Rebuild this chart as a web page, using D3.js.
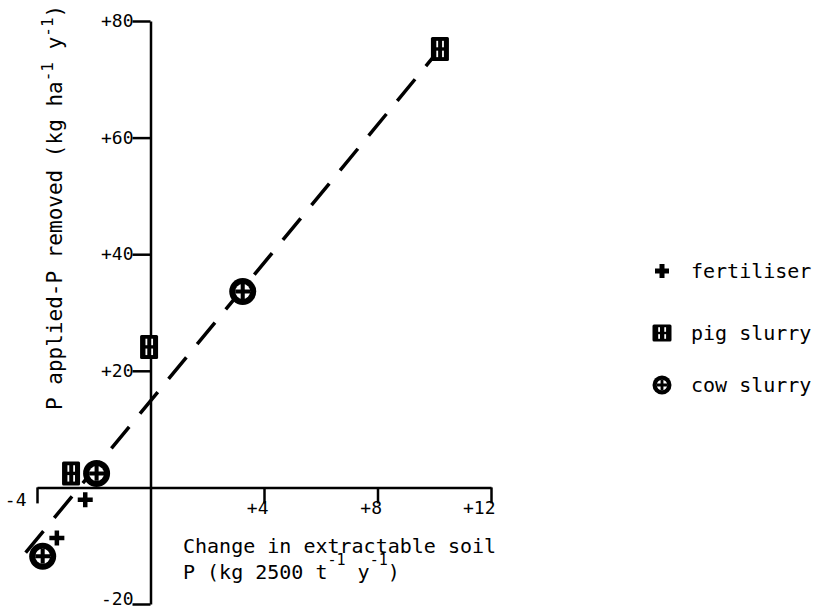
<!DOCTYPE html>
<html>
<head>
<meta charset="utf-8">
<script src="https://cdn.jsdelivr.net/npm/d3@7"></script>
<style>
  body { margin: 0; background: #fff; }
  text { font-family: "DejaVu Sans Mono", monospace; fill: #000; }
</style>
</head>
<body>
<svg width="816" height="610"></svg>
<script>
// values
var fertX = [-2.3, -3.3];
var fertY = [-2.1, -8.7];
var pigX = [-2.8, -0.05, 10.2];
var pigY = [2.4, 24.1, 75.2];
var cowX = [-1.9, 3.25, -3.8];
var cowY = [2.4, 33.6, -11.8];
var fitX = [-4.4, 10.2];
var fitY = [-11.2, 75.2];
var xTicks = [-4, 4, 8, 12];
var yTicks = [-20, 20, 40, 60, 80];
var legendLabels = ["fertiliser", "pig slurry", "cow slurry"];

var svg = d3.select('svg');

var xScale = d3.scaleLinear().domain([-4, 12]).range([37, 491]);
var yScale = d3.scaleLinear().domain([-20, 80]).range([604, 21]);

function signed(d) {
  return d > 0 ? "+" + d : "-" + Math.abs(d);
}

// x axis
var xAxis = svg.append('g')
  .attr('transform', 'translate(0,' + yScale(0) + ')')
  .call(d3.axisBottom(xScale).tickValues(xTicks).tickSize(16).tickSizeOuter(0).tickFormat(signed));

xAxis.selectAll('text')
  .attr('text-anchor', 'end')
  .attr('x', 4)
  .attr('y', 21)
  .attr('dy', '0.32em')
  .style('font-size', '18px')
  .style('font-family', '"DejaVu Sans Mono", monospace')
  .filter(function(d) { return d < 0; })
    .attr('x', -11)
    .attr('y', 13);

// y axis
var yAxis = svg.append('g')
  .attr('transform', 'translate(' + xScale(0) + ',0)')
  .call(d3.axisLeft(yScale).tickValues(yTicks).tickSize(18).tickSizeOuter(0).tickPadding(-1).tickFormat(signed));

yAxis.selectAll('text')
  .attr('dy', function(d) { return d < 0 ? '0.05em' : '0.3em'; })
  .style('font-size', '18px')
  .style('font-family', '"DejaVu Sans Mono", monospace');

svg.selectAll('.domain, .tick line')
  .attr('stroke', '#000')
  .attr('stroke-width', 2.5);

// fitted dashed line
svg.append('path')
  .datum(d3.zip(fitX, fitY))
  .attr('d', d3.line().x(function(d) { return xScale(d[0]); }).y(function(d) { return yScale(d[1]); }))
  .attr('fill', 'none')
  .attr('stroke', '#000')
  .attr('stroke-width', 3.5)
  .attr('stroke-dasharray', '28,17');

// marker drawing
function plus(g, s, w) {
  g.append('path')
    .attr('d', 'M' + (-s) + ',0H' + s + 'M0,' + (-s) + 'V' + s)
    .attr('stroke', '#000')
    .attr('stroke-width', w);
}

function pig(g, w, h) {
  g.append('rect')
    .attr('x', -w / 2).attr('y', -h / 2)
    .attr('width', w).attr('height', h)
    .attr('rx', 1.5)
    .attr('fill', '#000');
  var sh = h * 0.27;
  [[-w * 0.2, -h * 0.07 - sh], [w * 0.12, -h * 0.07 - sh], [-w * 0.2, h * 0.07], [w * 0.12, h * 0.07]].forEach(function(p) {
    g.append('rect')
      .attr('x', p[0]).attr('y', p[1])
      .attr('width', 1.8).attr('height', sh)
      .attr('fill', '#fff');
  });
}

function cow(g, r) {
  var ri = r * 0.55;
  g.append('circle').attr('r', r).attr('fill', '#000');
  g.append('circle').attr('r', ri).attr('fill', '#fff');
  g.append('path')
    .attr('d', 'M' + (-ri) + ',0H' + ri + 'M0,' + (-ri) + 'V' + ri)
    .attr('stroke', '#000')
    .attr('stroke-width', r * 0.3);
}

svg.selectAll('g.fert')
  .data(d3.zip(fertX, fertY))
  .enter()
  .append('g')
    .attr('class', 'fert')
    .attr('transform', function(d) { return 'translate(' + xScale(d[0]) + ',' + yScale(d[1]) + ')'; })
    .each(function() { plus(d3.select(this), 7.5, 4.5); });

svg.selectAll('g.pig')
  .data(d3.zip(pigX, pigY))
  .enter()
  .append('g')
    .attr('class', 'pig')
    .attr('transform', function(d) { return 'translate(' + xScale(d[0]) + ',' + yScale(d[1]) + ')'; })
    .each(function() { pig(d3.select(this), 18, 24); });

svg.selectAll('g.cow')
  .data(d3.zip(cowX, cowY))
  .enter()
  .append('g')
    .attr('class', 'cow')
    .attr('transform', function(d) { return 'translate(' + xScale(d[0]) + ',' + yScale(d[1]) + ')'; })
    .each(function() { cow(d3.select(this), 13.5); });

// axis titles
var yTitle = svg.append('text')
  .attr('transform', 'translate(62,410) rotate(-90)')
  .style('font-size', '21px');
yTitle.append('tspan').text('P applied-P removed (kg ha');
yTitle.append('tspan').attr('dy', -9).style('font-size', '16px').text('-1');
yTitle.append('tspan').attr('dy', 9).text(' y');
yTitle.append('tspan').attr('dy', -9).style('font-size', '16px').text('-1');
yTitle.append('tspan').attr('dy', 9).text(')');

svg.append('text')
  .attr('x', 183).attr('y', 553)
  .style('font-size', '20px')
  .text('Change in extractable soil');

var xTitle = svg.append('text')
  .attr('x', 183).attr('y', 579)
  .style('font-size', '20px');
xTitle.append('tspan').text('P (kg 2500 t');
xTitle.append('tspan').attr('dy', -14).style('font-size', '15px').text('-1');
xTitle.append('tspan').attr('dy', 14).text('  y');
xTitle.append('tspan').attr('dy', -14).style('font-size', '15px').text('-1');
xTitle.append('tspan').attr('dy', 14).text(')');

// legend
var legendY = [271, 333, 385];
var legend = svg.selectAll('g.legend')
  .data(legendLabels)
  .enter()
  .append('g')
    .attr('class', 'legend')
    .attr('transform', function(d, i) { return 'translate(662,' + legendY[i] + ')'; });

legend.each(function(d, i) {
  var g = d3.select(this);
  if (i === 0) plus(g, 7, 5);
  if (i === 1) pig(g, 19, 17);
  if (i === 2) cow(g, 9.5);
});

legend.append('text')
  .attr('x', 29)
  .attr('dy', '0.35em')
  .style('font-size', '20px')
  .text(function(d) { return d; });
</script>
</body>
</html>
